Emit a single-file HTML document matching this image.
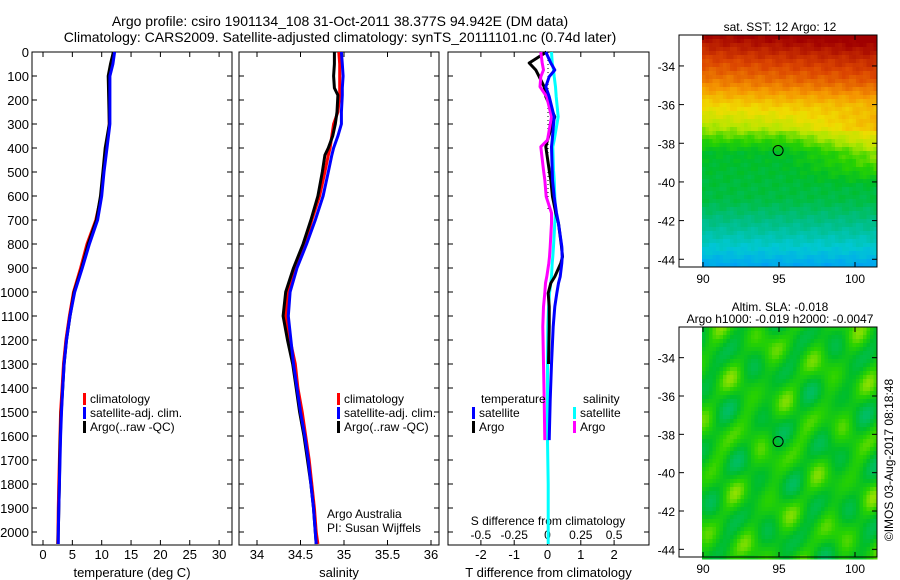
<!DOCTYPE html>
<html><head><meta charset="utf-8"><style>
body{margin:0;background:#fff;}
svg{display:block;font-family:"Liberation Sans",sans-serif;}
text{fill:#000;}
</style></head><body>
<svg id="c" width="900" height="580">
<text x="340" y="26" font-size="14" text-anchor="middle">Argo profile: csiro 1901134_108 31-Oct-2011 38.377S 94.942E (DM data)</text>
<text x="340" y="42" font-size="14" text-anchor="middle">Climatology: CARS2009. Satellite-adjusted climatology: synTS_20111101.nc (0.74d later)</text>
<g id="maps"></g>
<g id="plots"></g>
<text transform="translate(893,460) rotate(-90)" font-size="12" text-anchor="middle">©IMOS 03-Aug-2017 08:18:48</text>
</svg>
<script>
// ---- data ----
const depthT=[0,50,100,300,400,500,600,700,800,900,1000,1100,1200,1300,1400,1500,1600,1700,1800,1900,2000,2050];
const tempArgo=[12.0,11.5,11.1,11.3,10.6,10.2,9.8,9.1,7.7,6.6,5.3,4.6,4.0,3.6,3.35,3.1,2.95,2.85,2.8,2.7,2.6,2.55];
const tempClim=[12.1,11.8,11.3,11.3,10.8,10.3,9.9,9.0,7.5,6.4,5.2,4.5,3.9,3.5,3.25,3.0,2.9,2.8,2.7,2.6,2.55,2.5];
const tempSat=[12.2,11.9,11.4,11.4,10.9,10.4,10.0,9.3,7.9,6.7,5.4,4.6,4.0,3.6,3.35,3.15,3.0,2.9,2.8,2.7,2.6,2.6];
const depthS=[0,50,100,150,180,250,300,350,400,430,500,600,700,800,900,1000,1100,1200,1300,1400,1500,1600,1700,1800,1900,2000,2050];
const salArgo=[34.89,34.89,34.88,34.89,34.93,34.92,34.9,34.87,34.82,34.78,34.75,34.7,34.62,34.53,34.42,34.33,34.3,34.35,34.41,34.45,34.49,34.54,34.58,34.62,34.65,34.67,34.68];
const salClim=[34.94,34.95,34.95,34.95,34.95,34.93,34.88,34.86,34.84,34.82,34.78,34.72,34.63,34.55,34.44,34.36,34.33,34.38,34.44,34.47,34.52,34.56,34.6,34.63,34.66,34.68,34.7];
const salSat=[34.97,34.98,34.99,34.98,34.98,34.97,34.97,34.93,34.88,34.86,34.82,34.76,34.67,34.57,34.46,34.38,34.36,34.39,34.42,34.46,34.5,34.55,34.59,34.62,34.65,34.67,34.68];
const dDepth=[0,46,75,103,145,186,270,367,395,492,533,603,671,714,811,853,880,936,963,1005,1061,1144,1300,1450,1617,1800,2050];
const dTSat=[-0.05,0.1,0.22,0.05,-0.05,0.05,0.2,0.14,0.12,0.14,0.15,0.2,0.27,0.33,0.43,0.44,0.43,0.38,0.33,0.28,0.22,0.17,0.12,0.08,0.05,null,null];
const dTArgo=[-0.03,-0.55,-0.35,-0.25,-0.1,-0.05,0.22,0.0,-0.05,0.05,0.1,0.15,0.25,0.33,0.42,0.45,0.4,0.22,0.1,0.02,0.05,0.05,0.03,null,null,null,null];
const dSArgo=[-0.05,-0.04,-0.03,-0.05,-0.056,-0.006,0.03,0.0,-0.05,-0.03,-0.02,-0.01,0.03,0.03,0.02,0.015,0.01,-0.005,-0.015,-0.02,-0.03,-0.035,-0.03,-0.025,-0.02,null,null];
const dSSat=[0.03,0.035,0.045,0.05,0.06,0.065,0.08,0.05,0.04,0.045,0.05,0.055,0.06,0.055,0.045,0.04,0.035,0.03,0.025,0.015,0.008,0.002,0.0,0.0,0.0,0.005,0.005];
const depthTicks=[0,100,200,300,400,500,600,700,800,900,1000,1100,1200,1300,1400,1500,1600,1700,1800,1900,2000];
const tempTicks=[0,5,10,15,20,25,30];
const salTicks=[34,34.5,35,35.5,36];
const dTTicks=[-2,-1,0,1,2];
const dSTicks=[-0.5,-0.25,0,0.25,0.5];
const dSTickLabels=['-0.5','-0.25','0','0.25','0.5'];
const mapLatTicks=[-34,-36,-38,-40,-42,-44];
const mapLonTicks=[90,95,100];

const NS='http://www.w3.org/2000/svg';
function mk(tag,attrs,parent,txt){const e=document.createElementNS(NS,tag);for(const k in attrs)e.setAttribute(k,attrs[k]);if(txt!==undefined)e.textContent=txt;parent.appendChild(e);return e;}
const plots=document.getElementById('plots');
const y=d=>52+0.24*d;
const xT=t=>43+5.87*t;
const xS=s=>257+87*(s-34);
const xD=v=>547.5+33.3*v;
const xDS=v=>547.5+133.2*v;
function pts(depths,vals,fx){let p=[];for(let i=0;i<depths.length;i++){if(vals[i]===null)continue;p.push(fx(vals[i]).toFixed(1)+','+y(depths[i]).toFixed(1));}return p.join(' ');}

function frame(x0,x1,name,ticks,fx,labels,xlabel,showDepth,labelY){
  const g=mk('g',{},plots);
  
  
  mk('rect',{x:x0,y:52,width:x1-x0,height:493,fill:'none',stroke:'#000','stroke-width':1},g);
  depthTicks.forEach(d=>{mk('line',{x1:x0,x2:x0+5,y1:y(d),y2:y(d),stroke:'#000'},g);mk('line',{x1:x1-5,x2:x1,y1:y(d),y2:y(d),stroke:'#000'},g);
    if(showDepth){const t=mk('text',{x:x0-3,y:y(d)+5,'font-size':13,'text-anchor':'end'},g,String(d));}});
  ticks.forEach((v,i)=>{const X=fx(v);mk('line',{x1:X,x2:X,y1:52,y2:57,stroke:'#000'},g);mk('line',{x1:X,x2:X,y1:540,y2:545,stroke:'#000'},g);
    const t=mk('text',{x:X,y:labelY,'font-size':13,'text-anchor':'middle'},g,labels[i]);});
  const xl=mk('text',{x:(x0+x1)/2,y:577,'font-size':13,'text-anchor':'middle'},g,xlabel);
  
  
  return g;
}
function line(g,depths,vals,fx,color,name,w){const l=mk('polyline',{points:pts(depths,vals,fx),fill:'none',stroke:color,'stroke-width':w||3,'stroke-linejoin':'round'},g);}
function legend(g,x,yy,items){items.forEach((it,i)=>{const r=mk('rect',{x:x,y:yy+i*14-10,width:3,height:12,fill:it[1]},g);
  const t=mk('text',{x:x+7,y:yy+i*14,'font-size':12},g,it[0]);});}

let g1=frame(32,232,'temperature-panel',tempTicks,xT,tempTicks.map(String),'temperature (deg C)',true,559);
line(g1,depthT,tempClim,xT,'#f00','climatology-temp-line');
line(g1,depthT,tempArgo,xT,'#000','argo-temp-line');
line(g1,depthT,tempSat,xT,'#00f','satellite-temp-line');
legend(g1,83,403,[['climatology','#f00'],['satellite-adj. clim.','#00f'],['Argo(..raw -QC)','#000']]);
let g2=frame(239,439,'salinity-panel',salTicks,xS,salTicks.map(String),'salinity',false,559);
line(g2,depthS,salClim,xS,'#f00','climatology-sal-line');
line(g2,depthS,salArgo,xS,'#000','argo-sal-line');
line(g2,depthS,salSat,xS,'#00f','satellite-sal-line');
legend(g2,337,403,[['climatology','#f00'],['satellite-adj. clim.','#00f'],['Argo(..raw -QC)','#000']]);
let a1=mk('text',{x:327,y:518,'font-size':12},g2,'Argo Australia');
let a2=mk('text',{x:327,y:532,'font-size':12},g2,'PI: Susan Wijffels');
let g3=frame(448,649,'difference-panel',dTTicks,xD,dTTicks.map(String),'T difference from climatology',false,559);
mk('line',{x1:548,x2:548,y1:52,y2:y(660),stroke:'#000','stroke-dasharray':'1,3'},g3);
dSTicks.forEach((v,i)=>{const t=mk('text',{x:xDS(v),y:539,'font-size':12,'text-anchor':'middle'},g3,dSTickLabels[i]);});
let st=mk('text',{x:548,y:525,'font-size':12,'text-anchor':'middle'},g3,'S difference from climatology');
line(g3,dDepth,dSSat,xDS,'#0ff','satellite-s-diff-line');
line(g3,dDepth,dTArgo,xD,'#000','argo-t-diff-line');
line(g3,dDepth,dSArgo,xDS,'#f0f','argo-s-diff-line');
line(g3,dDepth,dTSat,xD,'#00f','satellite-t-diff-line');
let lt=mk('text',{x:481,y:403,'font-size':12},g3,'temperature');
let ls=mk('text',{x:583,y:403,'font-size':12},g3,'salinity');
legend(g3,472,417,[['satellite','#00f'],['Argo','#000']]);
legend(g3,573,417,[['satellite','#0ff'],['Argo','#f0f']]);

// ---- maps ----
const maps=document.getElementById('maps');
const cmap=[[0,[20,40,200]],[0.12,[0,150,255]],[0.25,[0,200,210]],[0.35,[0,190,130]],[0.45,[0,190,40]],[0.52,[40,210,0]],[0.6,[180,230,0]],[0.68,[240,220,0]],[0.78,[245,150,0]],[0.88,[220,70,0]],[1,[160,0,0]]];
function col(v){v=Math.max(0,Math.min(1,v));for(let i=1;i<cmap.length;i++){if(v<=cmap[i][0]){const a=cmap[i-1],b=cmap[i],t=(v-a[0])/(b[0]-a[0]);return 'rgb('+a[1].map((c,k)=>Math.round(c+(b[1][k]-c)*t)).join(',')+')';}}return 'rgb(160,0,0)';}
function interp(xs,ys,v){if(v<=xs[0])return ys[0];for(let i=1;i<xs.length;i++)if(v<=xs[i])return ys[i-1]+(ys[i]-ys[i-1])*(v-xs[i-1])/(xs[i]-xs[i-1]);return ys[ys.length-1];}
function map(top,bot,name,title1,title2,fn){
  const g=mk('g',{},maps);
  
  
  const lat0=-32.4, lat1=-44.4;
  const fy=la=>top+(la-lat0)/(lat1-lat0)*(bot-top);
  const fx=lo=>703+15.2*(lo-90);
  const cw=3.5,ch=4;
  for(let yy=top;yy<bot;yy+=ch)for(let xx=702;xx<877;xx+=cw){
    const u=(xx-702)/175,v=(yy-top)/(bot-top);
    mk('rect',{x:xx,y:yy,width:cw+0.5,height:ch+0.5,fill:col(fn(u,v))},g);
  }
  mk('rect',{x:679,y:top,width:198,height:bot-top,fill:'none',stroke:'#000'},g);
  mapLatTicks.forEach(la=>{const Y=fy(la);mk('line',{x1:679,x2:684,y1:Y,y2:Y,stroke:'#000'},g);mk('line',{x1:872,x2:877,y1:Y,y2:Y,stroke:'#000'},g);
    const t=mk('text',{x:675,y:Y+5,'font-size':12,'text-anchor':'end'},g,String(la));});
  mapLonTicks.forEach(lo=>{const X=fx(lo);mk('line',{x1:X,x2:X,y1:top,y2:top+5,stroke:'#000'},g);mk('line',{x1:X,x2:X,y1:bot-5,y2:bot,stroke:'#000'},g);
    const t=mk('text',{x:X,y:bot+16,'font-size':12,'text-anchor':'middle'},g,String(lo));});
  mk('circle',{cx:fx(94.942),cy:fy(-38.377),r:5,fill:'none',stroke:'#000'},g);
  if(title1){const t=mk('text',{x:780,y:top-16,'font-size':12,'text-anchor':'middle'},g,title1);}
  const t2=mk('text',{x:780,y:top-4,'font-size':12,'text-anchor':'middle'},g,title2);
}
map(35,267,'sst-map',null,'sat. SST: 12 Argo: 12',(u,v)=>{
  let base=interp([0,0.1,0.2,0.3,0.42,0.5,0.7,0.82,0.92,1],[0.98,0.88,0.8,0.68,0.56,0.45,0.42,0.33,0.24,0.15],v);
  if(v>0.3&&v<0.65) base+=0.12*Math.max(0,u-0.45)*Math.sin((v-0.3)/0.35*Math.PI)*2;
  if(v<0.4) base+=0.05*u;
  return base+0.02*Math.sin(u*53+v*37)*Math.cos(u*19-v*71);
});
map(327,557,'sla-map','Altim. SLA: -0.018','Argo h1000: -0.019 h2000: -0.0047',(u,v)=>{
  return 0.48+0.04*Math.sin(u*20+v*6)*Math.cos(v*18-u*4)-0.035*Math.cos(u*31+v*23)+0.03*Math.sin(u*9-v*27);
});
</script>
</body></html>
